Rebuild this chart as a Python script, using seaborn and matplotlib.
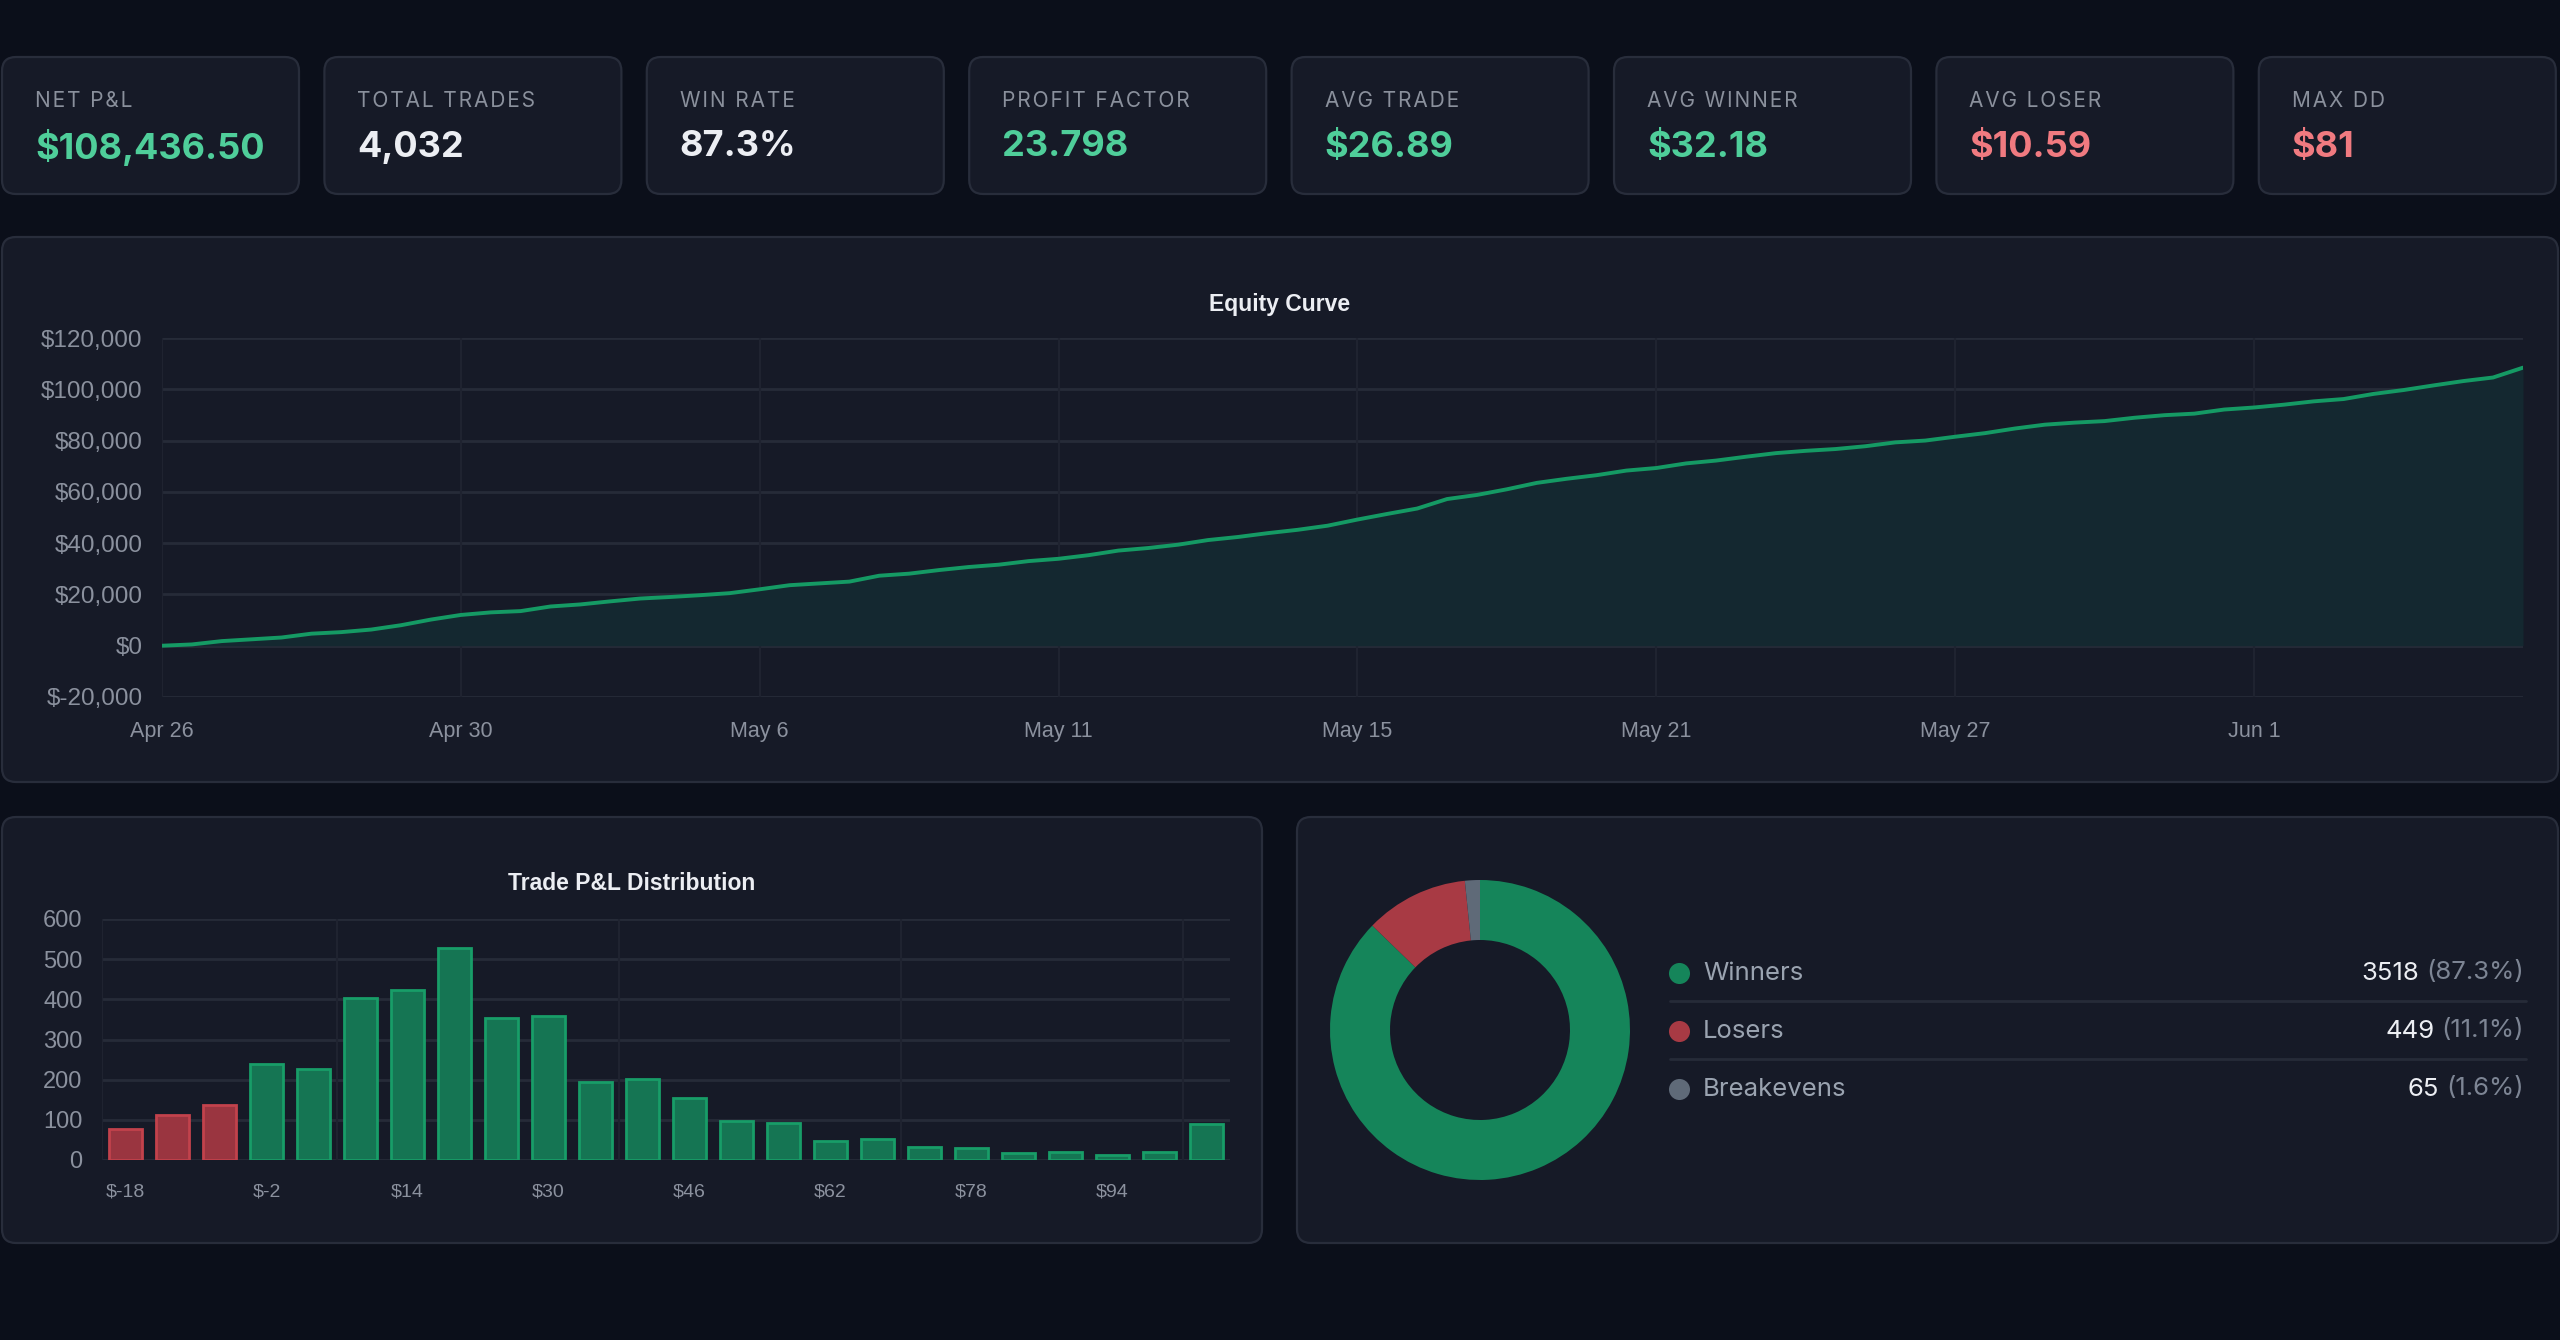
import numpy as np
import pandas as pd
import seaborn as sns
import matplotlib.pyplot as plt
from matplotlib.patches import FancyBboxPatch
from matplotlib.transforms import IdentityTransform
from matplotlib.ticker import FuncFormatter

# ---- data ----
kpi_labels = ["NET P&L", "TOTAL TRADES", "WIN RATE", "PROFIT FACTOR",
              "AVG TRADE", "AVG WINNER", "AVG LOSER", "MAX DD"]
kpi_values = ["$108,436.50", "4,032", "87.3%", "23.798",
              "$26.89", "$32.18", "$10.59", "$81"]
kpi_tone = ["pos", "neutral", "neutral", "pos", "pos", "pos", "neg", "neg"]

# cumulative P&L, sampled along the curve
equity = [0, 500, 1800, 2500, 3200, 4700, 5300, 6300, 8000, 10200,
          12000, 13000, 13500, 15300, 16100, 17300, 18400, 19000, 19700, 20500,
          22000, 23600, 24300, 25000, 27300, 28100, 29500, 30700, 31600, 33000,
          33900, 35300, 37100, 38100, 39400, 41200, 42400, 43900, 45200, 46800,
          49200, 51400, 53500, 57200, 58800, 61000, 63500, 65100, 66500, 68300,
          69300, 71100, 72200, 73700, 75100, 76000, 76700, 77800, 79300, 80000,
          81500, 82900, 84700, 86200, 87000, 87600, 88900, 89900, 90500, 92100,
          92900, 94000, 95300, 96200, 98200, 99700, 101500, 103200, 104600, 108436.5]
date_labels = ["Apr 26", "Apr 30", "May 6", "May 11", "May 15", "May 21", "May 27", "Jun 1"]

bin_labels = ["$-18", "$-13", "$-7", "$-2", "$3", "$9", "$14", "$19", "$25", "$30",
              "$35", "$41", "$46", "$51", "$57", "$62", "$67", "$73", "$78", "$83",
              "$89", "$94", "$99", "$105"]
bin_counts = [76, 113, 136, 238, 227, 404, 424, 529, 354, 359,
              195, 202, 155, 98, 93, 48, 53, 32, 31, 17,
              21, 12, 19, 90]
losing_bins = 3

outcome_labels = ["Winners", "Losers", "Breakevens"]
outcome_counts = [3518, 449, 65]

# ---- style ----
W, H = 2560, 1340
BG = "#0b0f1a"
PANEL = "#161a27"
BORDER = "#282d3b"
GRID = "#262b38"
VGRID = "#1f2330"
TICK = "#8b919e"
GREEN_TXT = "#4fce9a"
RED_TXT = "#f07a80"
WHITE = "#eceef3"
LINE = "#159a64"
FILL = "#142830"
BAR_G, BAR_G_EDGE = "#157553", "#189d68"
BAR_R, BAR_R_EDGE = "#9a3540", "#c2424c"
DONUT = ["#15855a", "#a83a44", "#5f6a78"]
UI_FONT = ["Inter", "DejaVu Sans"]

sns.set_theme(style="dark")
plt.rcParams["font.family"] = ["Liberation Sans", "DejaVu Sans"]

fig = plt.figure(figsize=(W / 100, H / 100), dpi=100, facecolor=BG)


def rect(x, y, w, h):
    return [x / W, 1 - (y + h) / H, w / W, h / H]


def panel(x, y, w, h):
    p = FancyBboxPatch((x, H - y - h), w, h, boxstyle="round,pad=0,rounding_size=14",
                       transform=IdentityTransform(), facecolor=PANEL,
                       edgecolor=BORDER, linewidth=1.6, zorder=-10)
    fig.patches.append(p)


def ftext(x, y, s, **kw):
    fig.text(x / W, 1 - y / H, s, **kw)


# ---- KPI cards ----
tone_color = {"pos": GREEN_TXT, "neg": RED_TXT, "neutral": WHITE}
for i, (lab, val, tone) in enumerate(zip(kpi_labels, kpi_values, kpi_tone)):
    x0 = 2 + i * 322.4
    panel(x0, 57, 297, 137)
    # letter-spaced caption
    ftext(x0 + 33, 101, "\u200a".join(lab), color="#8a909c",
          fontsize=15, family=UI_FONT, va="center", ha="left")
    ftext(x0 + 33, 147, val, color=tone_color[tone], fontsize=26,
          fontweight="bold", family=UI_FONT, va="center", ha="left")

# ---- equity curve ----
panel(2, 237, 2556, 545)
ftext(1280, 304, "Equity Curve", color=WHITE, fontsize=16.5, fontweight="bold",
      ha="center", va="center")
ax = fig.add_axes(rect(162, 338, 2361, 359))
ax.set_facecolor("none")
idx = np.arange(len(equity))
ax.fill_between(idx, equity, 0, color=FILL, linewidth=0, zorder=1)
sns.lineplot(x=idx, y=equity, ax=ax, color=LINE, linewidth=2.8, zorder=3)
ax.set_xlim(0, len(equity) - 1)
ax.set_ylim(-20000, 120000)
ax.set_yticks(np.arange(-20000, 120001, 20000))
ax.yaxis.set_major_formatter(FuncFormatter(lambda v, p: f"${v:,.0f}"))
step = 10
ax.set_xticks(np.arange(len(date_labels)) * step)
ax.set_xticklabels(date_labels)
ax.grid(False)
for yv in ax.get_yticks():
    ax.axhline(yv, color=GRID, linewidth=2, zorder=0)
for xv in ax.get_xticks():
    ax.axvline(xv, color=VGRID, linewidth=1.5, zorder=0)
ax.tick_params(axis="y", colors=TICK, labelsize=17.5, length=10, width=2, color=GRID, pad=4)
ax.tick_params(axis="x", colors=TICK, labelsize=15.5, length=12, width=1.5, color=VGRID, pad=5)
for s in ax.spines.values():
    s.set_visible(False)
ax.set_xlabel("")
ax.set_ylabel("")

# ---- P&L distribution ----
panel(2, 817, 1260, 426)
ftext(632, 883, "Trade P&L Distribution", color=WHITE, fontsize=16.5,
      fontweight="bold", ha="center", va="center")
hx = fig.add_axes(rect(102, 919, 1128, 241))
hx.set_facecolor("none")
bar_colors = [BAR_R if i < losing_bins else BAR_G for i in range(len(bin_counts))]
edge_colors = [BAR_R_EDGE if i < losing_bins else BAR_G_EDGE for i in range(len(bin_counts))]
dist = pd.DataFrame({"bin": bin_labels, "count": bin_counts})
sns.barplot(data=dist, x="bin", y="count", hue="bin", palette=bar_colors,
            legend=False, width=0.72, saturation=1, ax=hx, zorder=3)
for patch, ec in zip(hx.patches, edge_colors):
    patch.set_edgecolor(ec)
    patch.set_linewidth(2)
hx.set_xlim(-0.5, len(bin_counts) - 0.5)
hx.set_ylim(0, 600)
hx.set_yticks(np.arange(0, 601, 100))
hx.set_xticks(np.arange(0, len(bin_labels), 3))
hx.set_xticklabels(bin_labels[::3])
hx.grid(False)
for yv in hx.get_yticks():
    hx.axhline(yv, color=GRID, linewidth=2, zorder=0)
for xv in [-0.5, 4.5, 10.5, 16.5, 22.5]:
    hx.axvline(xv, color=VGRID, linewidth=1.5, zorder=0)
hx.tick_params(axis="y", colors=TICK, labelsize=17, length=0, pad=14)
hx.tick_params(axis="x", colors=TICK, labelsize=14, length=0, pad=17)
for s in hx.spines.values():
    s.set_visible(False)
hx.set_xlabel("")
hx.set_ylabel("")

# ---- outcome donut ----
panel(1297, 817, 1261, 426)
dx = fig.add_axes(rect(1330, 880, 300, 300))
dx.pie(outcome_counts, colors=DONUT, startangle=90, counterclock=False,
       radius=1, wedgeprops=dict(width=0.4, linewidth=0))
dx.set_xlim(-1, 1)
dx.set_ylim(-1, 1)
dx.set_aspect("equal")

lx = fig.add_axes(rect(1297, 817, 1261, 426))
lx.set_facecolor("none")
lx.axis("off")
total = sum(outcome_counts)
row_y = [973, 1031, 1089]
for i, (name, cnt) in enumerate(zip(outcome_labels, outcome_counts)):
    y = row_y[i]
    lx.scatter([1679], [y], s=230, color=DONUT[i], linewidths=0)
    lx.text(1703, y, name, color="#9aa3b0", fontsize=18.5, va="center", ha="left",
            family=UI_FONT)
    pct = lx.text(2524, y, f"({cnt / total * 100:.1f}%)", color="#7d8594", fontsize=18.5,
                  va="center", ha="right", family=UI_FONT)
    lx.annotate(f"{cnt}", xy=(0, 0.5), xycoords=pct, xytext=(-5, 0),
                textcoords="offset points", color=WHITE, fontsize=18.5, va="center",
                ha="right", family=UI_FONT)
    if i < len(outcome_labels) - 1:
        lx.plot([1670, 2526], [y + 28, y + 28], color=GRID, linewidth=2)
lx.set_xlim(1297, 2558)
lx.set_ylim(1243, 817)

fig.savefig("out.png", dpi=100, facecolor=BG)
